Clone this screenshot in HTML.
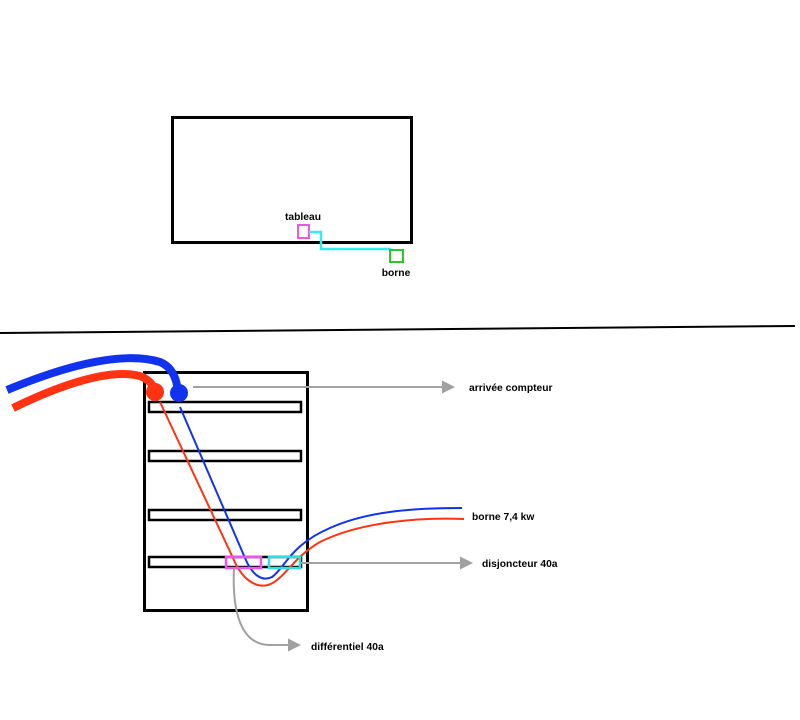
<!DOCTYPE html>
<html><head><meta charset="utf-8"><style>body{margin:0;background:#fff}svg{display:block}text{font-family:"Liberation Sans",Arial,sans-serif;font-weight:bold;font-size:10.3px;fill:#000}</style></head>
<body>
<svg width="800" height="720" viewBox="0 0 800 720" xmlns="http://www.w3.org/2000/svg">
<defs><marker id="a" markerWidth="14" markerHeight="14" refX="10" refY="6.5" orient="auto" markerUnits="userSpaceOnUse"><path d="M0,0 L13,6.5 L0,13 z" fill="#a0a0a0"/></marker></defs>
<rect x="172.5" y="117.5" width="239" height="125" fill="none" stroke="#000" stroke-width="3"/>
<text x="303" y="220" text-anchor="middle">tableau</text>
<rect x="298" y="225" width="11" height="13" fill="none" stroke="#ee55ee" stroke-width="2"/>
<path d="M309,232 H321 V249 H391" fill="none" stroke="#33eeee" stroke-width="2.5"/>
<rect x="390" y="250" width="13" height="12" fill="none" stroke="#22cc22" stroke-width="2"/>
<text x="396" y="276" text-anchor="middle">borne</text>
<line x1="0" y1="333" x2="795" y2="326" stroke="#000" stroke-width="2"/>
<rect x="144.5" y="372.5" width="163" height="238" fill="none" stroke="#000" stroke-width="3"/>
<rect x="149" y="402" width="152" height="10" fill="#fff" stroke="#000" stroke-width="2.5"/>
<rect x="149" y="451" width="152" height="10" fill="#fff" stroke="#000" stroke-width="2.5"/>
<rect x="149" y="510" width="152" height="10" fill="#fff" stroke="#000" stroke-width="2.5"/>
<rect x="149" y="557" width="152" height="10" fill="#fff" stroke="#000" stroke-width="2.5"/>
<path d="M7,390 C60,368 120,350 160,362 C172,367 177,378 178,393" fill="none" stroke="#1133ee" stroke-width="8"/>
<circle cx="179" cy="393" r="9" fill="#1133ee"/>
<path d="M13,408 C60,385 110,368 140,376 C150,380 154,386 155,392" fill="none" stroke="#ff3311" stroke-width="8"/>
<circle cx="155" cy="392" r="9" fill="#ff3311"/>
<path d="M180,407 L245,558 C252,575 262,582 272,577 C285,568 290,545 330,528 C370,510 420,508 462,508" fill="none" stroke="#1133ee" stroke-width="2"/>
<path d="M160,402 L233,558 C242,580 256,588 268,585 C284,580 292,558 320,542 C360,522 420,517 464,519" fill="none" stroke="#ff3311" stroke-width="2"/>
<rect x="226" y="557" width="35" height="11" fill="none" stroke="#ee55ee" stroke-width="2.5"/>
<rect x="269" y="557" width="31" height="11" fill="none" stroke="#33dddd" stroke-width="2.5"/>
<line x1="193" y1="387" x2="452" y2="387" stroke="#a0a0a0" stroke-width="2" marker-end="url(#a)"/>
<line x1="301" y1="563" x2="470" y2="563" stroke="#a0a0a0" stroke-width="2" marker-end="url(#a)"/>
<path d="M234,568 C232,610 240,645 270,645 L298,645" fill="none" stroke="#a0a0a0" stroke-width="2" marker-end="url(#a)"/>
<text x="469" y="391">arrivée compteur</text>
<text x="472" y="520">borne 7,4 kw</text>
<text x="482" y="567">disjoncteur 40a</text>
<text x="311" y="650">différentiel 40a</text>
</svg>
</body></html>
